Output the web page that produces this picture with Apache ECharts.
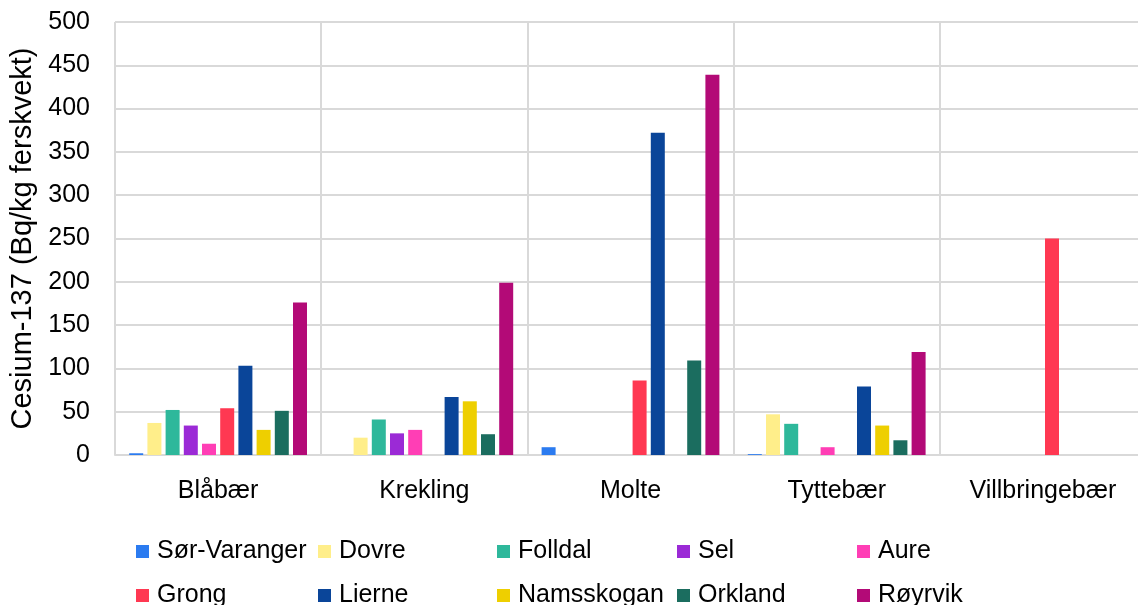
<!DOCTYPE html>
<html><head><meta charset="utf-8">
<script src="https://cdn.jsdelivr.net/npm/echarts@6/dist/echarts.min.js"></script>
<style>html,body{margin:0;padding:0;background:#fff}#c{width:1138px;height:605px}</style>
</head><body><div id="c"></div>
<script>
const categories = ['Blåbær', 'Krekling', 'Molte', 'Tyttebær', 'Villbringebær'];
const seriesNames = ['Sør-Varanger', 'Dovre', 'Folldal', 'Sel', 'Aure', 'Grong', 'Lierne', 'Namsskogan', 'Orkland', 'Røyrvik'];
const sorVaranger = [2, null, 9, 1, null];
const dovre = [37, 20, null, 47, null];
const folldal = [52, 41, null, 36, null];
const sel = [34, 25, null, null, null];
const aure = [13, 29, null, 9, null];
const grong = [54, null, 86, null, 250];
const lierne = [103, 67, 372, 79, null];
const namsskogan = [29, 62, null, 34, null];
const orkland = [51, 24, 109, 17, null];
const royrvik = [176, 199, 439, 119, null];
const yTicks = { min: 0, max: 500, interval: 50 };

const seriesData = [sorVaranger, dovre, folldal, sel, aure, grong, lierne, namsskogan, orkland, royrvik];
const colors = ['#2B7BF0', '#FFEE8A', '#2EB89B', '#9B2AD6', '#FF3EB5', '#FF3852', '#0A4599', '#EECF00', '#1B6D5F', '#B30A77'];
const FONT = 'Liberation Sans';

const legendPos = [
  [136, 539], [318, 539], [497, 539], [677, 539], [857, 539],
  [136, 583], [318, 583], [497, 583], [677, 583], [857, 583]
];

const chart = echarts.init(document.getElementById('c'), null, { renderer: 'canvas' });
chart.setOption({
  animation: false,
  color: colors,
  textStyle: { fontFamily: FONT },
  grid: { left: 115, top: 22, width: 1031, height: 433, outerBoundsMode: 'none', containLabel: false },
  legend: seriesNames.map((n, i) => ({
    data: [n], left: legendPos[i][0], top: legendPos[i][1],
    itemWidth: 13, itemHeight: 13, itemGap: 4, icon: 'rect',
    textStyle: { fontFamily: FONT, fontSize: 25, color: '#000', padding: [0, 0, 0, 3] },
    padding: 0
  })),
  xAxis: {
    type: 'category', data: categories,
    axisLine: { show: true, lineStyle: { color: '#d9d9d9', width: 2 } },
    axisTick: { show: false },
    splitLine: { show: true, interval: 0, lineStyle: { color: '#d9d9d9', width: 2 } },
    axisLabel: { fontFamily: FONT, fontSize: 25, color: '#000', margin: 24 }
  },
  yAxis: {
    type: 'value', min: yTicks.min, max: yTicks.max, interval: yTicks.interval,
    name: 'Cesium-137 (Bq/kg ferskvekt)', nameLocation: 'middle', nameGap: 78,
    nameTextStyle: { fontFamily: FONT, fontSize: 29, color: '#000' },
    axisLine: { show: false }, axisTick: { show: false },
    splitLine: { lineStyle: { color: '#d9d9d9', width: 2 } },
    axisLabel: { fontFamily: FONT, fontSize: 25, color: '#000', margin: 25 }
  },
  series: seriesNames.map((n, i) => ({
    name: n, type: 'bar', data: seriesData[i],
    barWidth: 14, barGap: '30%',
    itemStyle: { color: colors[i] }
  }))
});
</script></body></html>
